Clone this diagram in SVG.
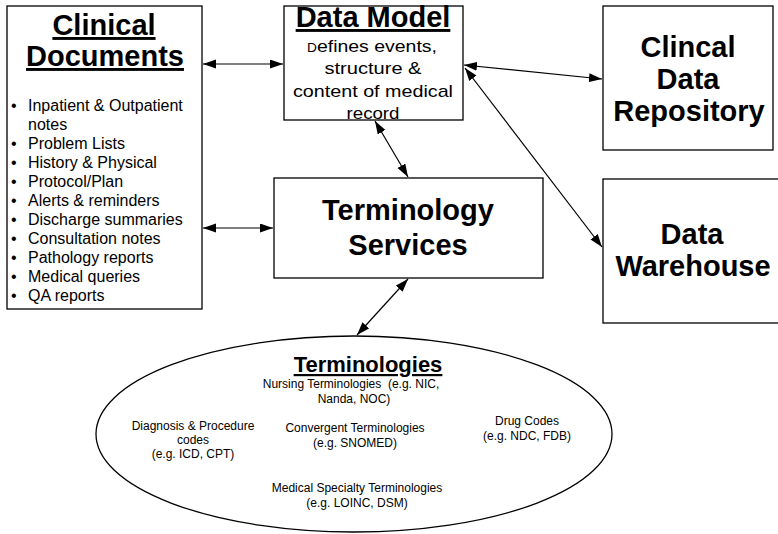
<svg xmlns="http://www.w3.org/2000/svg" width="778" height="534" viewBox="0 0 778 534">
  <style>
    .box { fill: #fff; stroke: #000; stroke-width: 1.3; }
    .title { font-family: "Liberation Sans", Arial, sans-serif; font-weight: bold; fill: #000; text-anchor: middle; }
    .ul { text-decoration: underline; }
    .body { font-family: "Liberation Sans", Arial, sans-serif; fill: #000; }
    .small { font-family: "Liberation Sans", Arial, sans-serif; font-size: 12px; fill: #000; text-anchor: middle; white-space: pre; }
    .link { stroke: #000; stroke-width: 1.2; fill: none; marker-start: url(#head); marker-end: url(#head); }
  </style>
  <defs>
    <marker id="head" markerUnits="userSpaceOnUse" markerWidth="14" markerHeight="10" refX="13" refY="4.5" orient="auto-start-reverse">
      <path d="M0,0 L13,4.5 L0,9 z" fill="#000"/>
    </marker>
  </defs>

  <rect width="778" height="534" fill="#fff"/>

  <!-- Clinical documents -->
  <g id="clinical-documents">
    <rect class="box" x="7" y="6" width="195" height="303"/>
    <text class="title ul" x="104" y="35" font-size="29">Clinical</text>
    <text class="title ul" x="105" y="66" font-size="29">Documents</text>
    <g class="body" font-size="16">
      <text x="11" y="111">•</text><text x="28" y="111">Inpatient &amp; Outpatient</text>
      <text x="28" y="130">notes</text>
      <text x="11" y="149">•</text><text x="28" y="149">Problem Lists</text>
      <text x="11" y="168">•</text><text x="28" y="168">History &amp; Physical</text>
      <text x="11" y="187">•</text><text x="28" y="187">Protocol/Plan</text>
      <text x="11" y="206">•</text><text x="28" y="206">Alerts &amp; reminders</text>
      <text x="11" y="225">•</text><text x="28" y="225">Discharge summaries</text>
      <text x="11" y="244">•</text><text x="28" y="244">Consultation notes</text>
      <text x="11" y="263">•</text><text x="28" y="263">Pathology reports</text>
      <text x="11" y="282">•</text><text x="28" y="282">Medical queries</text>
      <text x="11" y="301">•</text><text x="28" y="301">QA reports</text>
    </g>
  </g>

  <!-- Data model -->
  <g id="data-model">
    <rect class="box" x="284" y="6" width="179" height="114"/>
    <text class="title ul" x="373" y="27" font-size="29">Data Model</text>
    <g class="body" font-size="17" text-anchor="middle">
      <text x="372" y="52" textLength="130" lengthAdjust="spacingAndGlyphs"><tspan font-size="12">D</tspan>efines events,</text>
      <text x="373" y="74" textLength="97" lengthAdjust="spacingAndGlyphs">structure &amp;</text>
      <text x="373" y="97" textLength="160" lengthAdjust="spacingAndGlyphs">content of medical</text>
      <text x="373" y="119" textLength="53" lengthAdjust="spacingAndGlyphs">record</text>
    </g>
  </g>

  <!-- Clinical data repository -->
  <g id="clinical-data-repository">
    <rect class="box" x="603" y="6" width="170" height="144"/>
    <text class="title" x="688" y="57" font-size="29">Clincal</text>
    <text class="title" x="688" y="89" font-size="29">Data</text>
    <text class="title" x="689" y="121" font-size="29">Repository</text>
  </g>

  <!-- Data warehouse -->
  <g id="data-warehouse">
    <rect class="box" x="603" y="179" width="180" height="144"/>
    <text class="title" x="692" y="244" font-size="29">Data</text>
    <text class="title" x="693" y="276" font-size="29">Warehouse</text>
  </g>

  <!-- Terminology services -->
  <g id="terminology-services">
    <rect class="box" x="274" y="178" width="269" height="100"/>
    <text class="title" x="408" y="220" font-size="29">Terminology</text>
    <text class="title" x="408" y="255" font-size="29">Services</text>
  </g>

  <!-- Terminologies -->
  <g id="terminologies">
    <ellipse class="box" cx="354" cy="434" rx="258" ry="98"/>
    <text class="title ul" x="368" y="372" font-size="22">Terminologies</text>
    <text class="small" x="351" y="388">Nursing Terminologies  (e.g. NIC,</text>
    <text class="small" x="354" y="403">Nanda, NOC)</text>
    <text class="small" x="193" y="430">Diagnosis &amp; Procedure</text>
    <text class="small" x="193" y="444">codes</text>
    <text class="small" x="193" y="458">(e.g. ICD, CPT)</text>
    <text class="small" x="355" y="432">Convergent Terminologies</text>
    <text class="small" x="355" y="447">(e.g. SNOMED)</text>
    <text class="small" x="527" y="425">Drug Codes</text>
    <text class="small" x="527" y="440">(e.g. NDC, FDB)</text>
    <text class="small" x="357" y="492">Medical Specialty Terminologies</text>
    <text class="small" x="357" y="507">(e.g. LOINC, DSM)</text>
  </g>

  <!-- Connectors -->
  <g id="connectors">
    <line class="link" x1="203" y1="64" x2="283" y2="64"/>
    <line class="link" x1="203" y1="228" x2="273" y2="228"/>
    <line class="link" x1="464" y1="65" x2="602" y2="79"/>
    <line class="link" x1="465" y1="68" x2="602" y2="247"/>
    <line class="link" x1="375" y1="121" x2="408" y2="177"/>
    <line class="link" x1="408" y1="279" x2="357" y2="335"/>
  </g>
</svg>
